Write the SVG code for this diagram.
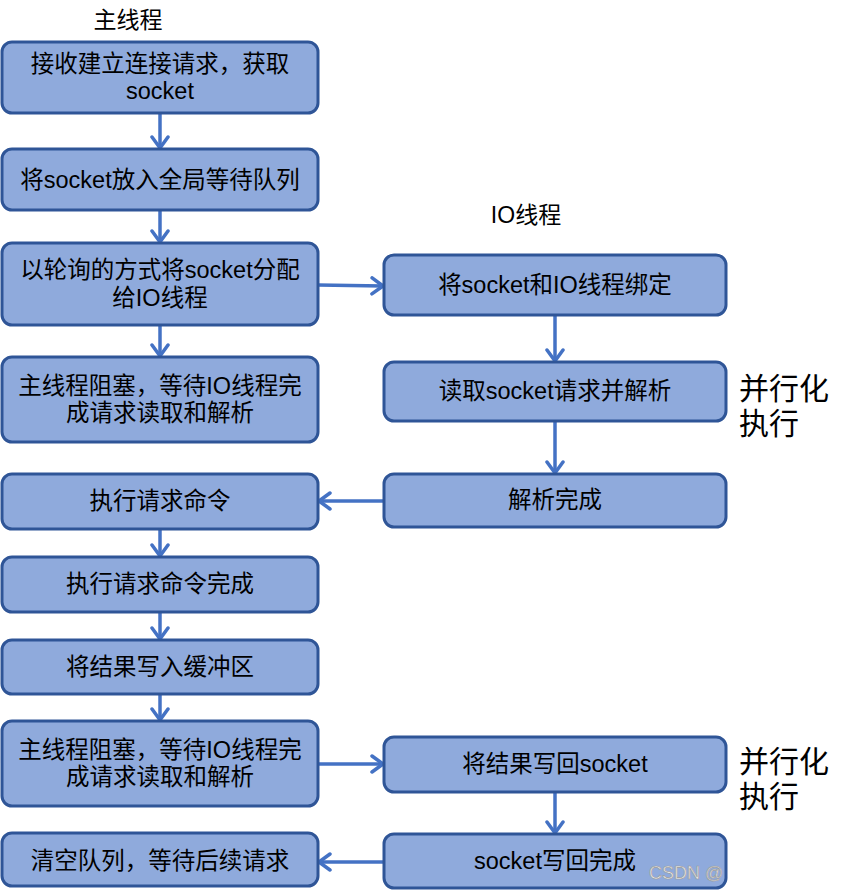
<svg xmlns="http://www.w3.org/2000/svg" width="847" height="893" viewBox="0 0 847 893">
<style>
.box{fill:#8faadc;stroke:#2f5597;stroke-width:3}
.t{font-family:"Liberation Sans","Noto Sans CJK SC",sans-serif;font-size:23.5px;fill:#000;text-anchor:middle}
.lbl{font-family:"Liberation Sans","Noto Sans CJK SC",sans-serif;font-size:23px;fill:#000}
.big{font-family:"Liberation Sans","Noto Sans CJK SC",sans-serif;font-size:30px;fill:#000}
.c{stroke:#4472c4;stroke-width:3.5;fill:none;marker-end:url(#ah)}
.wm{font-family:"Liberation Sans",sans-serif;font-size:18px;fill:#e8e8e8;stroke:#9a9a9a;stroke-width:0.6}
</style>
<defs>
<marker id="ah" markerUnits="userSpaceOnUse" markerWidth="16" markerHeight="20" viewBox="0 0 16 20" refX="13" refY="10" orient="auto">
<path d="M2,2 L13,10 L2,18" fill="none" stroke="#4472c4" stroke-width="3.5" stroke-linecap="round" stroke-linejoin="round"/>
</marker>
</defs>
<rect width="847" height="893" fill="#fff"/>
<text class="lbl" x="128" y="28" text-anchor="middle">主线程</text>
<text class="lbl" x="526" y="223" text-anchor="middle">IO线程</text>
<text class="big" x="739" y="399">并行化</text>
<text class="big" x="739" y="434">执行</text>
<text class="big" x="739" y="772">并行化</text>
<text class="big" x="739" y="807">执行</text>

<g id="connectors">
<line class="c" x1="160" y1="113" x2="160" y2="148"/>
<line class="c" x1="160" y1="210" x2="160" y2="242"/>
<line class="c" x1="160" y1="325" x2="160" y2="356"/>
<line class="c" x1="160" y1="529" x2="160" y2="556"/>
<line class="c" x1="160" y1="612" x2="160" y2="639"/>
<line class="c" x1="160" y1="694" x2="160" y2="720"/>
<line class="c" x1="555" y1="315" x2="555" y2="361"/>
<line class="c" x1="555" y1="421" x2="555" y2="473"/>
<line class="c" x1="555" y1="792" x2="555" y2="833"/>
<line class="c" x1="318" y1="285" x2="383" y2="286"/>
<line class="c" x1="384" y1="501" x2="319" y2="501"/>
<line class="c" x1="318" y1="764" x2="383" y2="764"/>
<line class="c" x1="384" y1="862" x2="319" y2="862"/>
</g>

<g id="n1"><rect class="box" x="2" y="42" width="316" height="71" rx="10"/><text class="t" x="160" y="72">接收建立连接请求，获取</text><text class="t" x="160" y="99">socket</text></g>
<g id="n2"><rect class="box" x="2" y="149" width="316" height="61" rx="10"/><text class="t" x="160" y="188">将socket放入全局等待队列</text></g>
<g id="n3"><rect class="box" x="2" y="243" width="316" height="82" rx="10"/><text class="t" x="160" y="278">以轮询的方式将socket分配</text><text class="t" x="160" y="306">给IO线程</text></g>
<g id="n4"><rect class="box" x="2" y="357" width="316" height="85" rx="10"/><text class="t" x="160" y="394">主线程阻塞，等待IO线程完</text><text class="t" x="160" y="421">成请求读取和解析</text></g>
<g id="n5"><rect class="box" x="2" y="474" width="316" height="55" rx="10"/><text class="t" x="160" y="509">执行请求命令</text></g>
<g id="n6"><rect class="box" x="2" y="557" width="316" height="55" rx="10"/><text class="t" x="160" y="592">执行请求命令完成</text></g>
<g id="n7"><rect class="box" x="2" y="640" width="316" height="54" rx="10"/><text class="t" x="160" y="675">将结果写入缓冲区</text></g>
<g id="n8"><rect class="box" x="2" y="721" width="316" height="85" rx="10"/><text class="t" x="160" y="758">主线程阻塞，等待IO线程完</text><text class="t" x="160" y="785">成请求读取和解析</text></g>
<g id="n9"><rect class="box" x="2" y="833" width="316" height="53" rx="10"/><text class="t" x="160" y="869">清空队列，等待后续请求</text></g>

<g id="r1"><rect class="box" x="384" y="255" width="342" height="60" rx="10"/><text class="t" x="555" y="293">将socket和IO线程绑定</text></g>
<g id="r2"><rect class="box" x="384" y="362" width="342" height="59" rx="10"/><text class="t" x="555" y="399">读取socket请求并解析</text></g>
<g id="r3"><rect class="box" x="384" y="474" width="342" height="53" rx="10"/><text class="t" x="555" y="508">解析完成</text></g>
<g id="r4"><rect class="box" x="384" y="737" width="342" height="55" rx="10"/><text class="t" x="555" y="772">将结果写回socket</text></g>
<g id="r5"><rect class="box" x="384" y="834" width="342" height="54" rx="10"/><text class="t" x="555" y="869">socket写回完成</text></g>
<text class="wm" x="649" y="879">CSDN @</text>
</svg>
